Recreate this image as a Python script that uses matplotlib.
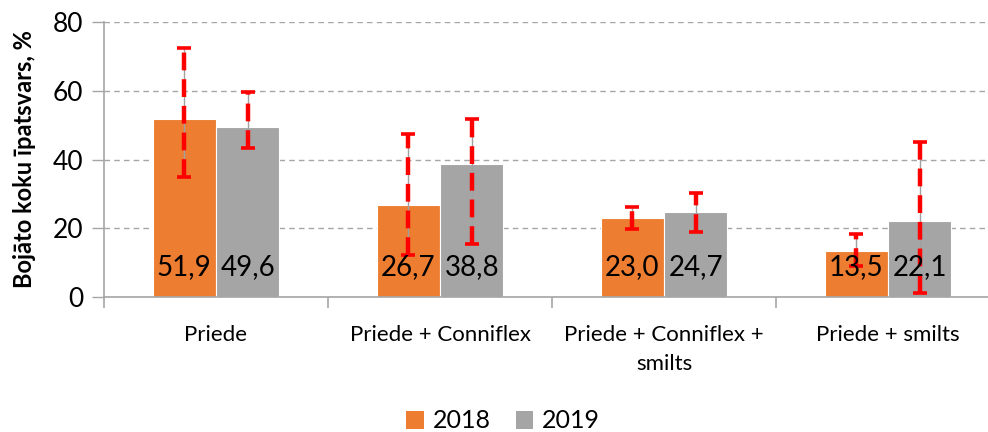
import matplotlib
matplotlib.use("Agg")
import matplotlib.pyplot as plt
import numpy as np
from matplotlib.patches import Patch

categories = ["Priede", "Priede + Conniflex", "Priede + Conniflex +\nsmilts", "Priede + smilts"]
years = ["2018", "2019"]
values_2018 = [51.9, 26.7, 23.0, 13.5]
values_2019 = [49.6, 38.8, 24.7, 22.1]
low_2018 = [35.0, 12.2, 19.9, 9.1]
high_2018 = [72.3, 47.3, 26.1, 18.3]
low_2019 = [43.4, 15.4, 18.9, 1.1]
high_2019 = [59.7, 51.7, 30.4, 45.0]
yticks = [0, 20, 40, 60, 80]

colors = ["#ED7D31", "#A5A5A5"]
font = ["Lato", "DejaVu Sans"]
plt.rcParams['font.family'] = font

fig = plt.figure(figsize=(9.88, 4.32), dpi=100)
W, H = 988, 432
ax = fig.add_axes([104 / W, 1 - 297 / H, 896 / W, 275 / H])

x = np.arange(len(categories))
bw = 0.283
series = [(values_2018, low_2018, high_2018), (values_2019, low_2019, high_2019)]
for i, (vals, lo, hi) in enumerate(series):
    pos = x + (i - 0.5) * bw
    ax.bar(pos, vals, width=bw, color=colors[i], edgecolor="white", linewidth=0.8, zorder=2)
    vals_a = np.array(vals)
    yerr = [vals_a - np.array(lo), np.array(hi) - vals_a]
    ax.errorbar(pos, vals, yerr=yerr, fmt="none", ecolor="#A0A0A0", elinewidth=1.0,
                capsize=0, zorder=3)
    eb = ax.errorbar(pos, vals, yerr=yerr, fmt="none", ecolor="#FF0000", elinewidth=3.2,
                     capsize=4.8, capthick=2.6, zorder=4)
    eb[2][0].set_linestyle((0, (4.0, 2.0)))
    for p, v in zip(pos, vals):
        ax.text(p, 8.6, f"{v:.1f}".replace(".", ","), ha="center", va="center",
                fontsize=20, color="black", zorder=5)

ax.set_ylim(0, 80)
ax.set_xlim(-0.5, 3.5)
ax.set_yticks(yticks)
ax.set_yticklabels([str(t) for t in yticks], fontsize=19)
ax.yaxis.grid(True, linestyle=(0, (4, 3)), color="#A6A6A6", linewidth=1.0, zorder=0)
ax.set_axisbelow(True)

ax.set_xticks(x)
ax.set_xticklabels(categories, fontsize=16, linespacing=1.6)
ax.tick_params(axis="x", length=0, pad=20)
ax.set_xticks(np.arange(-0.5, 3.6, 1), minor=True)
ax.tick_params(axis="x", which="minor", length=8, color="#A6A6A6", width=1.2)
ax.tick_params(axis="y", length=9, color="#A6A6A6", width=1.0, pad=6)

for s in ["top", "right"]:
    ax.spines[s].set_visible(False)
for s in ["left", "bottom"]:
    ax.spines[s].set_color("#A6A6A6")
    ax.spines[s].set_linewidth(1.2)

ax.set_ylabel("Bojāto koku īpatsvars, %", fontsize=17, fontweight="bold", labelpad=12)

handles = [Patch(facecolor=colors[i], label=years[i]) for i in range(2)]
fig.legend(handles=handles, loc="center", bbox_to_anchor=(503 / W, 1 - 421 / H), ncol=2,
           frameon=False, fontsize=18, handlelength=0.7, handleheight=0.7,
           handletextpad=0.35, columnspacing=1.0)

fig.savefig("out.png", dpi=100)
